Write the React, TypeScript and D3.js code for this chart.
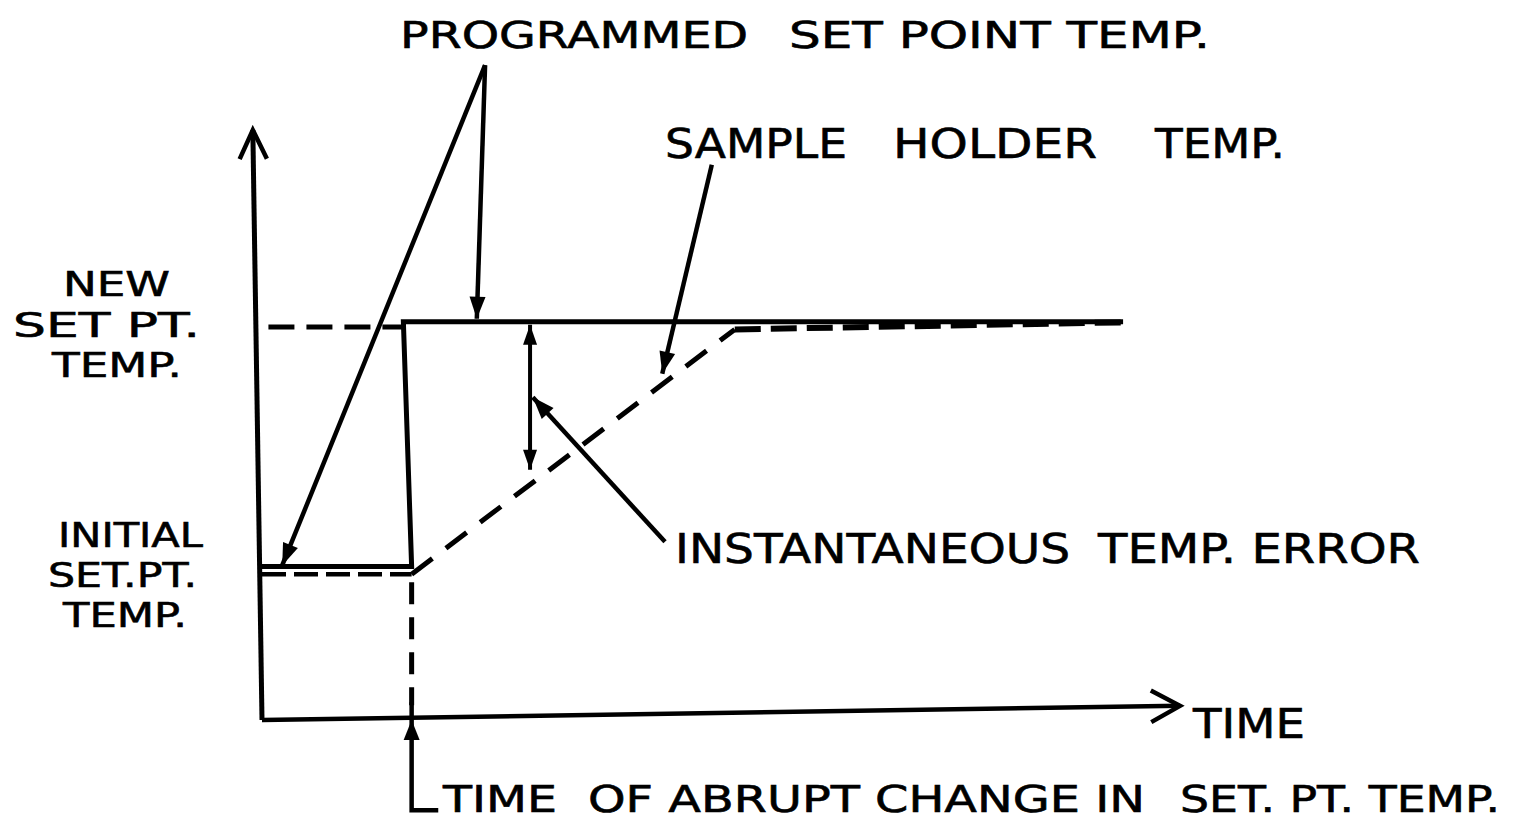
import React from "react";
import * as d3 from "d3";

// schematic units: time 0..100, temperature 0..10
const timeDomain = [0, 100];
const tempDomain = [0, 10];

// programmed set point (solid step)
const setPointTime = [0, 16.3, 15.4, 93.8];
const setPointTemp = [2.6, 2.6, 6.75, 6.75];

// sample holder temperature (dashed)
const holderTime = [0, 16.3, 51.5, 93.8];
const holderTemp = [2.47, 2.47, 6.62, 6.74];

// dashed reference for the new set point level
const newLevelTime = [0.7, 15.3];
const newLevelTemp = [6.66, 6.66];

const changeTime = 16.3;
const errorTime = 29.2;
const errorTop = 6.7;
const errorBottom = 4.24;

// leader lines [fromTime, fromTemp, toTime, toTemp]
const leaders = [
  [24.3, 11.1, 2.2, 2.62],
  [24.3, 11.1, 23.4, 6.8],
  [49.0, 9.41, 43.6, 5.87],
  [43.9, 3.02, 29.5, 5.47],
];

// lettering: [text, x, baseline, fontSize, width]
const labels: [string, number, number, number, number][] = [
  ["PROGRAMMED", 400, 48, 37, 348],
  ["SET POINT TEMP.", 789, 48, 37, 421],
  ["SAMPLE", 665, 158, 41, 182],
  ["HOLDER", 893, 158, 41, 204],
  ["TEMP.", 1155, 158, 41, 130],
  ["NEW", 63, 296, 33, 107],
  ["SET PT.", 13, 337, 33, 187],
  ["TEMP.", 52, 377, 33, 130],
  ["INITIAL", 58, 547, 33, 145],
  ["SET.PT.", 48, 587, 33, 149],
  ["TEMP.", 63, 627, 33, 124],
  ["INSTANTANEOUS", 675, 563, 41, 395],
  ["TEMP. ERROR", 1098, 563, 41, 322],
  ["TIME", 1193, 738, 40, 112],
  ["TIME", 443, 812, 37, 114],
  ["OF ABRUPT CHANGE IN", 588, 812, 37, 557],
  ["SET. PT. TEMP.", 1180, 812, 37, 320],
];

const W = 1520;
const H = 826;
const font = "'DejaVu Sans', sans-serif";

type Pt = [number, number];

const filledHead = (tip: Pt, from: Pt, len = 20, half = 7) => {
  const a = Math.atan2(tip[1] - from[1], tip[0] - from[0]);
  const bx = tip[0] - len * Math.cos(a);
  const by = tip[1] - len * Math.sin(a);
  const nx = -Math.sin(a) * half;
  const ny = Math.cos(a) * half;
  return `M${tip[0]},${tip[1]}L${bx + nx},${by + ny}L${bx - nx},${by - ny}Z`;
};

const openHead = (tip: Pt, from: Pt, len = 33, ang = 0.45) => {
  const a = Math.atan2(tip[1] - from[1], tip[0] - from[0]);
  const p1 = [tip[0] - len * Math.cos(a - ang), tip[1] - len * Math.sin(a - ang)];
  const p2 = [tip[0] - len * Math.cos(a + ang), tip[1] - len * Math.sin(a + ang)];
  return `M${p1[0]},${p1[1]}L${tip[0]},${tip[1]}L${p2[0]},${p2[1]}`;
};

const App = () => {
  const x = d3.scaleLinear().domain(timeDomain).range([262, 1180]);
  const y = d3.scaleLinear().domain(tempDomain).range([720, 130]);
  const line = d3
    .line<number[]>()
    .x((d) => x(d[0]))
    .y((d) => y(d[1]));

  const setPts = setPointTime.map((t, i) => [t, setPointTemp[i]]);
  const holderPts = holderTime.map((t, i) => [t, holderTemp[i]]);
  const levelPts = newLevelTime.map((t, i) => [t, newLevelTemp[i]]);

  const yAxisFrom: Pt = [x(0), y(0)];
  const yAxisTo: Pt = [x(-1), y(10)];
  const xAxisFrom: Pt = [x(0), y(0)];
  const xAxisTo: Pt = [x(100), y(0.24)];

  const errTop: Pt = [x(errorTime), y(errorTop)];
  const errBot: Pt = [x(errorTime), y(errorBottom)];

  const markerFrom: Pt = [x(changeTime), y(-1.53)];
  const markerTip: Pt = [x(changeTime), y(0)];

  const txt = {
    fontFamily: font,
    fill: "#000",
    stroke: "#000",
    strokeWidth: 0.6,
  } as React.CSSProperties;

  return (
    <svg
      width={W}
      height={H}
      style={{ position: "absolute", left: 0, top: 0, background: "#fff" }}
    >
      <rect width={W} height={H} fill="#fff" />
      <g fill="none" stroke="#000" strokeLinecap="butt">
        {/* axes */}
        <path d={`M${yAxisFrom}L${yAxisTo}`} strokeWidth={5} />
        <path d={openHead(yAxisTo, yAxisFrom, 32, 0.44)} strokeWidth={4.5} />
        <path d={`M${xAxisFrom}L${xAxisTo}`} strokeWidth={4.5} />
        <path d={openHead(xAxisTo, xAxisFrom, 33, 0.5)} strokeWidth={4.5} />

        {/* programmed set point */}
        <path d={line(setPts) || ""} strokeWidth={5} strokeLinejoin="miter" />

        {/* new set point level */}
        <path d={line(levelPts) || ""} strokeWidth={5} strokeDasharray="26 12" />

        {/* sample holder */}
        <path d={line(holderPts.slice(0, 2)) || ""} strokeWidth={4.5} strokeDasharray="24 8" />
        <path d={line(holderPts.slice(1, 3)) || ""} strokeWidth={5} strokeDasharray="26 17" />
        <path d={line(holderPts.slice(2, 4)) || ""} strokeWidth={6} strokeDasharray="26 10" />

        {/* time of change marker */}
        <path
          d={line([
            [changeTime, holderTemp[0]],
            [changeTime, 0.25],
          ]) || ""}
          strokeWidth={5}
          strokeDasharray="22 13"
          strokeDashoffset={-8}
        />
        <path
          d={line([
            [changeTime, 0.3],
            [changeTime, -1.53],
            [19.2, -1.53],
          ]) || ""}
          strokeWidth={4.5}
        />

        {/* error double arrow */}
        <path d={`M${errTop}L${errBot}`} strokeWidth={4} />

        {/* leaders */}
        {leaders.map((l, i) => (
          <path
            key={i}
            d={line([
              [l[0], l[1]],
              [l[2], l[3]],
            ]) || ""}
            strokeWidth={4.5}
          />
        ))}
      </g>

      <g fill="#000">
        <path d={filledHead(markerTip, markerFrom, 20, 8)} />
        <path d={filledHead(errTop, errBot, 20, 7)} />
        <path d={filledHead(errBot, errTop, 20, 7)} />
        {leaders.map((l, i) => (
          <path
            key={i}
            d={filledHead([x(l[2]), y(l[3])], [x(l[0]), y(l[1])], 22, 8)}
          />
        ))}
      </g>

      <g style={txt}>
        {labels.map(([s, lx, ly, fs, w], i) => (
          <text
            key={i}
            x={lx}
            y={ly}
            fontSize={fs}
            textLength={w}
            lengthAdjust="spacingAndGlyphs"
          >
            {s}
          </text>
        ))}
      </g>
    </svg>
  );
};

export default App;
